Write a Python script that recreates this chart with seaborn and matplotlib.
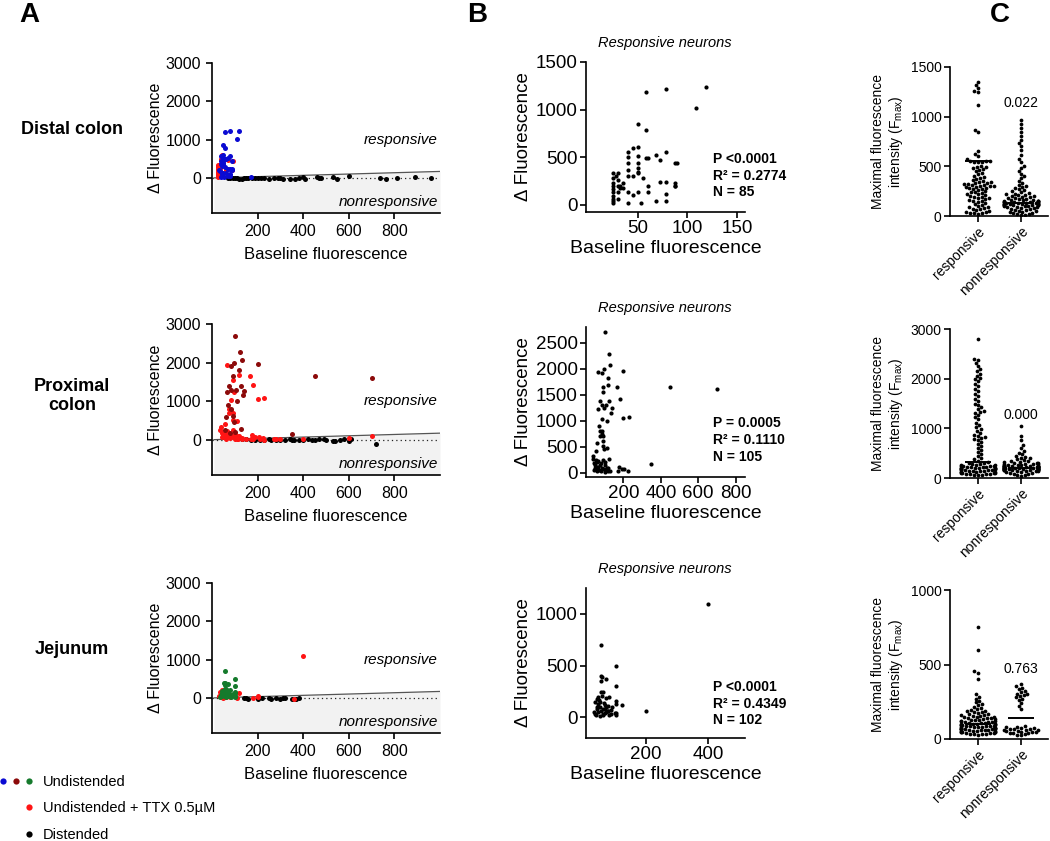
import warnings
import numpy as np
import pandas as pd
import matplotlib
matplotlib.use("Agg")
import matplotlib.pyplot as plt
import seaborn as sns
from matplotlib.lines import Line2D
from matplotlib.legend_handler import HandlerTuple

warnings.filterwarnings("ignore")

# ------------------- Data -------------------
# Panel A / B : baseline fluorescence (x) vs delta fluorescence (y)

# Distal colon
distal_undist_x = [58, 78, 119, 109, 50, 58, 50, 40, 50, 68, 78, 88, 50, 40, 50, 58, 72, 78, 88, 50,
                   40, 45, 55, 60, 78, 50, 53, 68, 78, 40, 32, 35, 45, 88, 60, 170]
distal_undist_y = [1190, 1220, 1234, 1014, 850, 787, 610, 560, 510, 525, 560, 440, 440, 440, 390, 490, 245, 245, 230, 330,
                   370, 300, 280, 130, 112, 140, 15, 42, 42, 15, 200, 180, 100, 199, 490, 25]
distal_ttx_x = [25, 25, 25, 25, 25, 25, 25, 25, 25, 25, 30, 30, 30, 30, 30, 40, 40, 40, 45, 50,
                60, 72, 88, 90, 32, 35, 28]
distal_ttx_y = [330, 280, 230, 200, 165, 130, 95, 65, 40, 15, 330, 265, 200, 130, 60, 500, 300, 140, 600, 350,
                200, 470, 200, 440, 180, 230, 300]
distal_dist_x = [70, 80, 90, 100, 110, 120, 130, 140, 150, 160, 175, 190, 200, 215, 230, 250, 270, 290, 300, 310,
                 340, 365, 380, 400, 410, 460, 470, 480, 530, 550, 600, 735, 765, 813, 891, 960]
distal_dist_y = [-10, 0, -5, -10, -5, -20, -30, -10, 0, -10, 10, -5, 0, -10, 0, -20, -10, 10, 0, -15,
                 -20, -40, -10, 20, -30, 20, 0, 10, 20, -30, 50, -10, -20, -10, 20, 10]

# Proximal colon
prox_undist_x = [103, 122, 130, 95, 85, 120, 200, 90, 450, 700, 85, 140, 135, 105, 75, 125, 65, 110, 90, 350,
                 85, 60, 55, 80, 100, 125, 70, 95]
prox_undist_y = [2700, 2280, 2070, 2000, 1920, 1820, 1950, 1650, 1650, 1600, 1300, 1250, 1150, 1300, 1380, 1380, 1230, 1000, 620, 160,
                 800, 580, 250, 180, 200, 270, 900, 450]
prox_ttx_x = [65, 120, 165, 90, 180, 95, 200, 230, 85, 75, 85, 90, 75, 90, 110, 55, 40, 35, 45, 50,
              50, 55, 60, 60, 65, 70, 75, 80, 85, 90, 95, 100, 100, 105, 110, 115, 120, 130, 175, 190,
              205, 225, 180, 110, 130, 150, 170, 210, 230, 270, 280, 300, 400, 600, 700, 45, 55, 65]
prox_ttx_y = [1930, 1680, 1640, 1550, 1420, 1240, 1050, 1070, 1030, 800, 750, 700, 700, 520, 480, 420, 330, 260, 180, 100,
              150, 80, 30, 200, 120, 60, 150, 40, 100, 250, 80, 20, 150, 60, 100, 30, 90, 40, 110, 80,
              70, 40, 30, 10, 20, 10, 30, 10, 5, 20, 10, 30, 20, 40, 100, 60, 120, 220]
prox_dist_x = [130, 150, 170, 190, 210, 230, 250, 260, 280, 300, 320, 340, 350, 360, 380, 400, 420, 440, 450, 470,
               490, 500, 530, 540, 560, 580, 600, 610, 720]
prox_dist_y = [20, 10, 5, -10, 0, -5, 10, -10, -5, 0, -20, 10, -10, 0, -20, -10, 10, 0, -20, 10,
               20, -10, -30, -40, 0, 30, -40, 20, -100]

# Jejunum
jej_undist_x = [55, 53, 57, 70, 55, 103, 103, 55, 60, 58, 70, 80, 103, 103, 42, 50, 60, 45, 65, 75,
                35, 90, 40, 70, 85, 50, 60, 45, 55, 65, 75, 103, 103, 48, 62]
jej_undist_y = [700, 400, 385, 370, 350, 500, 300, 245, 240, 210, 190, 200, 160, 130, 180, 100, 80, 50, 120, 60,
                30, 100, 80, 50, 30, 150, 20, 130, 60, 40, 110, 40, 20, 170, 140]
jej_ttx_x = [400, 120, 40, 30, 35, 70, 75, 80, 100, 45, 200, 50, 60, 65, 360, 200, 180, 110, 38, 85]
jej_ttx_y = [1100, 120, 100, 50, 150, 100, 60, 20, 40, 200, 60, 10, 30, 80, -20, 20, -10, 10, 20, 70]
jej_dist_x = [140, 150, 160, 200, 220, 250, 260, 280, 300, 310, 320, 350, 370, 380, 360]
jej_dist_y = [-10, 0, -20, -30, -10, 0, -20, -10, -20, 0, -10, -30, -20, -10, -40]

# Panel C : maximal fluorescence intensity (Fmax)
c1_resp = [1350, 1320, 1290, 1260, 1250, 1120, 870, 850, 650, 620, 600, 570, 555, 550, 550, 548, 545, 540, 500, 495,
           490, 480, 470, 460, 450, 430, 420, 400, 390, 380, 370, 360, 350, 345, 340, 335, 330, 325, 320, 315,
           310, 305, 300, 300, 295, 290, 285, 280, 275, 270, 260, 250, 245, 240, 230, 225, 220, 210, 200, 195,
           190, 185, 180, 170, 160, 155, 150, 140, 130, 120, 110, 100, 95, 90, 80, 75, 70, 60, 50, 45,
           40, 35, 30, 30, 25]
c1_non = [970, 930, 890, 850, 810, 770, 730, 700, 660, 610, 570, 540, 500, 480, 450, 420, 400, 380, 350, 330,
          310, 300, 290, 280, 270, 260, 250, 240, 230, 225, 220, 215, 210, 205, 200, 195, 190, 185, 180, 175,
          170, 165, 160, 158, 155, 152, 150, 148, 145, 143, 140, 138, 136, 134, 132, 130, 128, 126, 125, 124,
          122, 120, 118, 116, 115, 114, 112, 110, 108, 106, 105, 100, 98, 95, 92, 90, 85, 80, 75, 70,
          65, 60, 55, 50, 45, 40, 35, 30, 25, 20, 15, 10]
c2_resp = [2800, 2400, 2380, 2320, 2260, 2200, 2150, 2100, 2060, 2020, 2000, 1960, 1900, 1850, 1800, 1760, 1700, 1660, 1600, 1560,
           1500, 1460, 1420, 1380, 1350, 1320, 1300, 1260, 1220, 1180, 1100, 1060, 1020, 980, 950, 900, 860, 840, 820, 800,
           780, 760, 720, 680, 640, 600, 560, 520, 480, 440, 400, 380, 350, 330, 310, 300, 290, 280, 270, 260,
           255, 250, 245, 240, 235, 230, 225, 220, 215, 210, 205, 200, 198, 195, 192, 190, 185, 180, 175, 170,
           165, 160, 155, 150, 145, 140, 135, 130, 125, 120, 115, 110, 105, 100, 95, 90, 85, 80, 75, 70,
           65, 60]
c2_non = [1050, 850, 760, 660, 600, 550, 510, 480, 450, 430, 410, 400, 380, 360, 350, 340, 330, 320, 310, 300,
          295, 290, 285, 280, 275, 270, 265, 260, 255, 250, 248, 245, 242, 240, 238, 235, 232, 230, 228, 225,
          222, 220, 218, 215, 212, 210, 208, 205, 202, 200, 198, 196, 194, 192, 190, 188, 186, 184, 182, 180,
          178, 175, 172, 170, 168, 165, 162, 160, 155, 152, 150, 145, 140, 135, 130, 120, 110, 100, 90, 80,
          70, 55, 40]
c3_resp = [750, 600, 455, 445, 400, 300, 285, 270, 255, 245, 235, 225, 215, 205, 200, 195, 190, 185, 180, 178,
           175, 170, 165, 160, 158, 155, 152, 150, 148, 145, 142, 140, 138, 135, 132, 130, 128, 125, 122, 120,
           118, 116, 114, 112, 110, 108, 106, 104, 102, 100, 99, 98, 96, 95, 94, 92, 90, 88, 86, 85,
           84, 82, 80, 79, 78, 76, 75, 74, 72, 70, 69, 68, 66, 65, 64, 62, 60, 59, 58, 56,
           55, 54, 52, 50, 48, 46, 45, 44, 42, 40, 38, 36, 35, 34, 32, 30]
c3_non = [370, 355, 345, 335, 325, 315, 305, 300, 295, 290, 280, 270, 260, 240, 220, 200, 85, 80, 78, 75,
          72, 70, 68, 65, 62, 60, 58, 55, 52, 50, 48, 45, 42, 40, 38, 35, 30, 25]

region_names = ["Distal colon", "Proximal\ncolon", "Jejunum"]
undist_colors = ["#0a0ad2", "#8c0a0a", "#157a2c"]
ttx_color = "#ff1414"
thresh_slope = 0.17

b_stats = ["P <0.0001\nR\u00b2 = 0.2774\nN = 85",
           "P = 0.0005\nR\u00b2 = 0.1110\nN = 105",
           "P <0.0001\nR\u00b2 = 0.4349\nN = 102"]
b_xlims = [(-2, 158), (0, 850), (5, 520)]
b_ylims = [(-75, 1500), (-80, 2800), (-200, 1250)]
b_xticks = [[50, 100, 150], [200, 400, 600, 800], [200, 400]]
b_yticks = [[0, 500, 1000, 1500], [0, 500, 1000, 1500, 2000, 2500], [0, 500, 1000]]

c_groups = ["responsive", "nonresponsive"]
c_ylims = [1500, 3000, 1000]
c_yticks = [[0, 500, 1000, 1500], [0, 1000, 2000, 3000], [0, 500, 1000]]
c_medians = [[550, 128], [320, 210], [100, 140]]
c_pvals = ["0.022", "0.000", "0.763"]
c_pval_y = [1140, 1268, 470]

undist_x = [distal_undist_x, prox_undist_x, jej_undist_x]
undist_y = [distal_undist_y, prox_undist_y, jej_undist_y]
ttx_x = [distal_ttx_x, prox_ttx_x, jej_ttx_x]
ttx_y = [distal_ttx_y, prox_ttx_y, jej_ttx_y]
dist_x = [distal_dist_x, prox_dist_x, jej_dist_x]
dist_y = [distal_dist_y, prox_dist_y, jej_dist_y]
c_resp = [c1_resp, c2_resp, c3_resp]
c_non = [c1_non, c2_non, c3_non]

# ------------------- Style -------------------
sns.set_style("ticks")
plt.rcParams['font.family'] = ['Liberation Sans', 'DejaVu Sans']
plt.rcParams['axes.linewidth'] = 1.2
plt.rcParams['xtick.major.width'] = 1.2
plt.rcParams['ytick.major.width'] = 1.2
plt.rcParams['xtick.major.size'] = 4
plt.rcParams['ytick.major.size'] = 4
plt.rcParams['xtick.color'] = 'black'
plt.rcParams['ytick.color'] = 'black'
plt.rcParams['xtick.labelcolor'] = 'black'
plt.rcParams['ytick.labelcolor'] = 'black'
plt.rcParams['axes.edgecolor'] = 'black'
plt.rcParams['axes.labelcolor'] = 'black'
plt.rcParams['text.color'] = 'black'

W, H = 1050, 841
fig = plt.figure(figsize=(W / 100, H / 100), dpi=100)


def px_axes(left, top, right, bottom):
    return fig.add_axes([left / W, 1 - bottom / H, (right - left) / W, (bottom - top) / H])


def clean(ax):
    for s in ["top", "right"]:
        ax.spines[s].set_visible(False)


a_rows = [(63, 213), (324, 475), (583, 733)]
b_rows = [(62, 212), (327, 477), (588, 738)]
c_rows = [(67, 216), (329, 478), (590, 739)]

for i in range(3):
    # ------------------- Panel A -------------------
    top, bot = a_rows[i]
    ax = px_axes(212, top, 440, bot)
    ymin = -915
    ax.set_xlim(0, 1000)
    ax.set_ylim(ymin, 3000)
    xs = np.array([8, 1000])
    ax.fill_between(xs, ymin, thresh_slope * xs, color="#f2f2f2", linewidth=0, zorder=0)
    ax.plot(xs, thresh_slope * xs, color="#555555", lw=0.9, zorder=1)
    ax.axhline(0, color="#222222", ls=(0, (1, 2.5)), lw=0.9, zorder=1)
    sns.scatterplot(x=dist_x[i], y=dist_y[i], color="black", s=13, linewidth=0, ax=ax, zorder=2)
    sns.scatterplot(x=ttx_x[i], y=ttx_y[i], color=ttx_color, s=13, linewidth=0, ax=ax, zorder=3)
    sns.scatterplot(x=undist_x[i], y=undist_y[i], color=undist_colors[i], s=13, linewidth=0, ax=ax, zorder=4)
    ax.set_xticks([200, 400, 600, 800])
    ax.set_yticks([0, 1000, 2000, 3000])
    ax.tick_params(labelsize=11.5, pad=4)
    ax.set_xlabel("Baseline fluorescence", fontsize=12, labelpad=6)
    ax.set_ylabel("")
    ax.text(990, 1000, "responsive", style="italic", fontsize=11, ha="right", va="center")
    ax.text(990, -620, "nonresponsive", style="italic", fontsize=11, ha="right", va="center")
    clean(ax)
    fig.text(155 / W, 1 - (top + bot) / 2 / H, "\u0394 Fluorescence", rotation=90,
             ha="center", va="center", fontsize=11.5)
    fig.text(72 / W, 1 - [130, 396, 650][i] / H, region_names[i], fontsize=13,
             fontweight="bold", ha="center", va="center", multialignment="center")

    # ------------------- Panel B -------------------
    top, bot = b_rows[i]
    ax = px_axes(586, top, 745, bot)
    all_x = list(undist_x[i]) + list(ttx_x[i])
    all_y = list(undist_y[i]) + list(ttx_y[i])
    bx = [x for x, y in zip(all_x, all_y) if y > thresh_slope * x]
    by = [y for x, y in zip(all_x, all_y) if y > thresh_slope * x]
    sns.scatterplot(x=bx, y=by, color="black", s=9, linewidth=0, ax=ax)
    ax.set_xlim(*b_xlims[i])
    ax.set_ylim(*b_ylims[i])
    ax.set_xticks(b_xticks[i])
    ax.set_yticks(b_yticks[i])
    ax.tick_params(labelsize=13.5, pad=2)
    ax.set_xlabel("Baseline fluorescence", fontsize=14, labelpad=2)
    clean(ax)
    fig.text(523 / W, 1 - (top + bot) / 2 / H, "\u0394 Fluorescence", rotation=90,
             ha="center", va="center", fontsize=13.5)
    fig.text(665 / W, 1 - (top - 19) / H, "Responsive neurons", style="italic",
             fontsize=10.5, ha="center", va="center")
    fig.text(713 / W, 1 - [152, 416, 680][i] / H, b_stats[i], fontsize=10, fontweight="bold",
             ha="left", va="top", linespacing=1.25)

    # ------------------- Panel C -------------------
    top, bot = c_rows[i]
    ax = px_axes(950, top, 1048, bot)
    df = pd.DataFrame({
        "group": ["responsive"] * len(c_resp[i]) + ["nonresponsive"] * len(c_non[i]),
        "value": list(c_resp[i]) + list(c_non[i]),
    })
    sns.swarmplot(data=df, x="group", y="value", order=c_groups, color="black", size=2.7, ax=ax)
    ax.hlines(c_medians[i], [-0.3, 0.7], [0.3, 1.3], color="black", lw=1.4, zorder=5)
    ax.text(1, c_pval_y[i], c_pvals[i], ha="center", va="center", fontsize=10)
    ax.set_xlim(-0.65, 1.63)
    ax.set_ylim(0, c_ylims[i])
    ax.set_yticks(c_yticks[i])
    ax.set_xlabel("")
    ax.set_ylabel("")
    ax.tick_params(labelsize=10, pad=2)
    plt.setp(ax.get_xticklabels(), rotation=45, ha="right", rotation_mode="anchor")
    clean(ax)
    fig.text(888 / W, 1 - (top + bot) / 2 / H,
             "Maximal fluorescence\nintensity ($\\mathregular{F_{max}}$)", rotation=90,
             ha="center", va="center", fontsize=10, multialignment="center")

# ------------------- Panel letters -------------------
for letter, xp in zip(["A", "B", "C"], [29, 477, 1000]):
    fig.text(xp / W, 1 - 15 / H, letter, fontsize=20, fontweight="bold", ha="center", va="center")

# ------------------- Legend -------------------
def dot(c):
    return Line2D([], [], marker="o", ls="", color=c, markersize=4.5, markeredgewidth=0)


blank = Line2D([], [], marker="o", ls="", color="none")
handles = [tuple(dot(c) for c in undist_colors), (blank, blank, dot(ttx_color)), (blank, blank, dot("black"))]
fig.legend(handles, ["Undistended", "Undistended + TTX 0.5\u00b5M", "Distended"],
           handler_map={tuple: HandlerTuple(ndivide=None, pad=0)},
           loc="upper left", bbox_to_anchor=(-3.5 / W, 1 - 775 / H), frameon=False,
           handlelength=2.7, handletextpad=0.5, labelspacing=0.85, borderpad=0,
           borderaxespad=0, fontsize=10.5)

fig.savefig("out.png", dpi=100)
